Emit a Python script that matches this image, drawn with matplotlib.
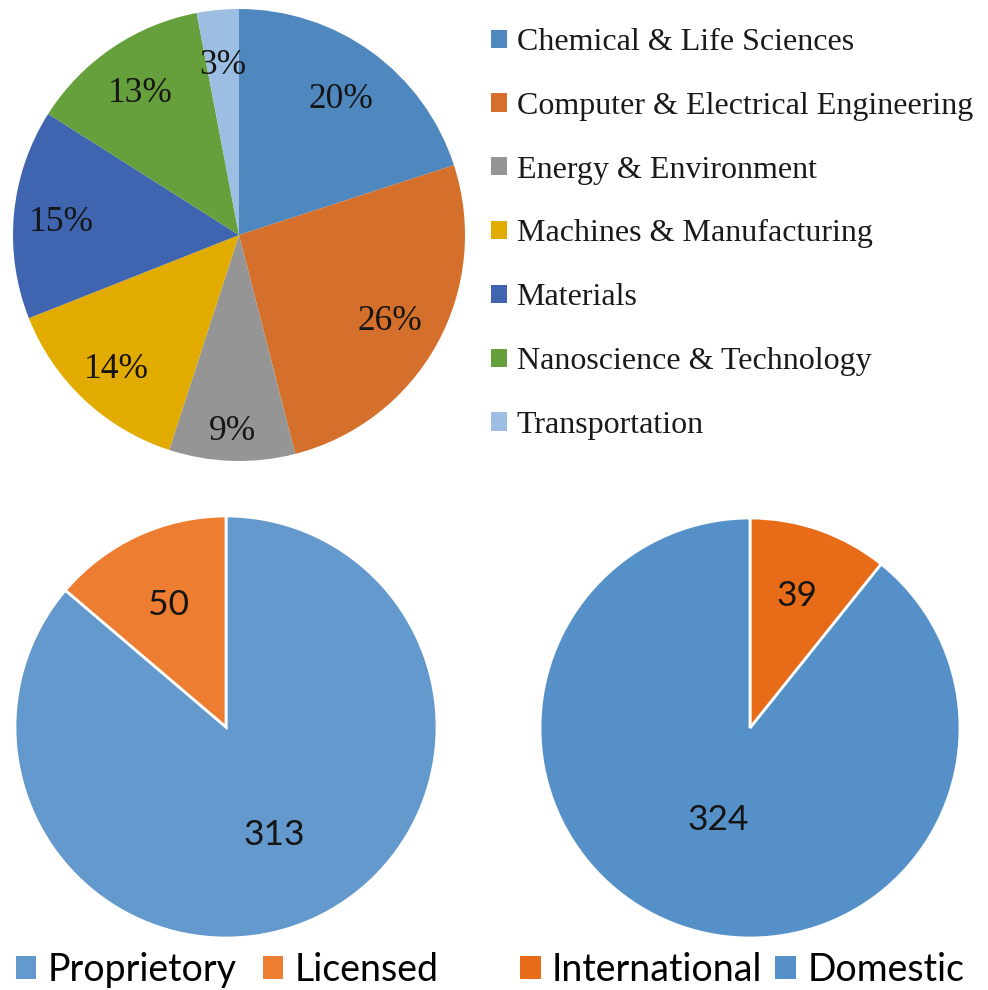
import numpy as np
import matplotlib
matplotlib.use("Agg")
import matplotlib.pyplot as plt
from matplotlib.patches import Patch

# ---- data ----
fields = ["Chemical & Life Sciences", "Computer & Electrical Engineering",
          "Energy & Environment", "Machines & Manufacturing", "Materials",
          "Nanoscience & Technology", "Transportation"]
field_pct = [20, 26, 9, 14, 15, 13, 3]
field_colors = ["#4f87bf", "#d4702b", "#959595", "#e2ab00", "#4065b0", "#66a03d", "#9dbee3"]

status_labels = ["Proprietory", "Licensed"]
status_values = [313, 50]
status_colors = ["#6399cc", "#ed7d31"]

origin_labels = ["International", "Domestic"]
origin_values = [39, 324]
origin_colors = ["#e86b18", "#5591c8"]

W, H = 988, 990
fig = plt.figure(figsize=(W / 100, H / 100), dpi=100)

def add_pie_axes(cx, cy, r):
    return fig.add_axes([(cx - r) / W, 1 - (cy + r) / H, 2 * r / W, 2 * r / H])

serif = ["Liberation Serif", "DejaVu Serif"]
sans = ["Lato", "DejaVu Sans"]

def pie_with_labels(ax, values, colors, texts, dists, lw, family, size):
    wedges, _ = ax.pie(values, colors=colors, startangle=90, counterclock=False,
                       wedgeprops=dict(linewidth=lw, edgecolor="white"))
    for w, s, d in zip(wedges, texts, dists):
        ang = np.deg2rad((w.theta1 + w.theta2) / 2)
        ax.text(d * np.cos(ang), d * np.sin(ang), s, ha="center", va="center_baseline",
                fontfamily=family, fontsize=size, color="#151515")
    ax.set_xlim(-1, 1); ax.set_ylim(-1, 1)

# ---- top pie ----
ax1 = add_pie_axes(239, 235, 226)
pie_with_labels(ax1, field_pct, field_colors, [f"{v}%" for v in field_pct],
                [0.765, 0.76, 0.85, 0.79, 0.79, 0.78, 0.77], 0, serif, 25.5)

handles1 = [Patch(facecolor=c, edgecolor="none") for c in field_colors]
leg1 = fig.legend(handles1, fields, loc="upper left", bbox_to_anchor=(491 / W, 1 - 28 / H),
                  frameon=False, prop=dict(family=serif, size=23),
                  handlelength=0.5, handleheight=0.5, handletextpad=0.3,
                  labelspacing=1.09, borderpad=0, borderaxespad=0)
for t in leg1.get_texts():
    t.set_color("#1a1a1a")

# ---- bottom pies ----
ax2 = add_pie_axes(226, 727, 211)
pie_with_labels(ax2, status_values, status_colors, [str(v) for v in status_values],
                [0.55, 0.65], 2, sans, 25.5)
ax3 = add_pie_axes(750, 728, 210)
pie_with_labels(ax3, origin_values, origin_colors, [str(v) for v in origin_values],
                [0.68, 0.45], 2, sans, 25.5)

def bottom_legend(labels, colors, xc, colsp):
    hs = [Patch(facecolor=c, edgecolor="none") for c in colors]
    fig.legend(hs, labels, loc="center", bbox_to_anchor=(xc / W, 1 - 970 / H), ncol=2,
               frameon=False, prop=dict(family=sans, size=27),
               handlelength=0.55, handleheight=0.55, handletextpad=0.3,
               columnspacing=colsp, borderpad=0, borderaxespad=0)

bottom_legend(status_labels, status_colors, 227, 0.7)
bottom_legend(origin_labels, origin_colors, 742, 0.35)

fig.savefig("out.png", dpi=100, facecolor="white")
